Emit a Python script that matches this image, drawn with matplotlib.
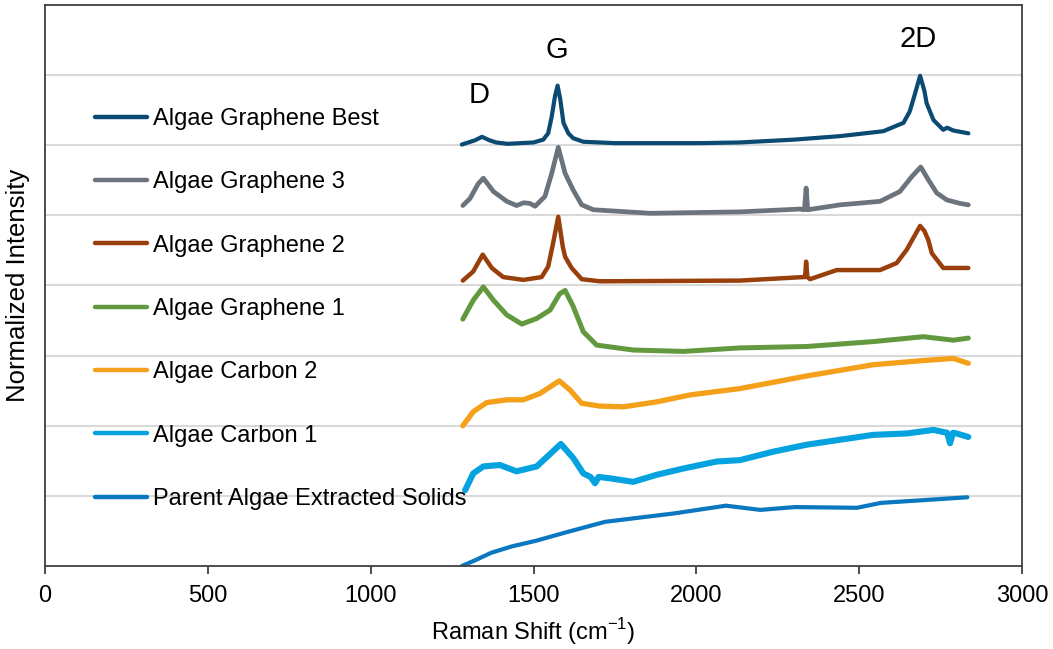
import matplotlib.pyplot as plt

plt.rcParams['font.family'] = ['Liberation Sans', 'DejaVu Sans']

# keypoints (Raman shift, stacked normalized intensity)
best_x = [1280, 1300, 1320, 1342, 1365, 1385, 1420, 1500, 1530, 1545, 1556, 1566, 1574, 1582, 1592,
          1607, 1622, 1653, 1750, 2011, 2134, 2300, 2441, 2574, 2636, 2655, 2666, 2687, 2700, 2707,
          2728, 2758, 2770, 2789, 2835]
best_y = [6.01, 6.04, 6.07, 6.12, 6.07, 6.04, 6.02, 6.04, 6.08, 6.17, 6.41, 6.70, 6.85, 6.66, 6.32,
          6.17, 6.10, 6.05, 6.03, 6.03, 6.04, 6.08, 6.13, 6.20, 6.32, 6.48, 6.65, 6.99, 6.78, 6.60,
          6.36, 6.22, 6.25, 6.21, 6.17]

g3_x = [1283, 1305, 1330, 1346, 1377, 1418, 1448, 1470, 1489, 1505, 1535, 1556, 1576, 1597, 1622,
        1648, 1684, 1858, 2134, 2318, 2332, 2337, 2342, 2441, 2564, 2625, 2661, 2689, 2712, 2738,
        2769, 2810, 2835]
g3_y = [5.14, 5.24, 5.45, 5.53, 5.34, 5.20, 5.14, 5.18, 5.17, 5.13, 5.27, 5.60, 5.97, 5.60, 5.36,
        5.15, 5.08, 5.03, 5.05, 5.09, 5.08, 5.39, 5.08, 5.15, 5.20, 5.34, 5.55, 5.69, 5.51, 5.32,
        5.22, 5.17, 5.15]

g2_x = [1283, 1315, 1344, 1372, 1407, 1469, 1525, 1545, 1560, 1576, 1590, 1597, 1617, 1648, 1704,
        2134, 2328, 2334, 2337, 2341, 2349, 2431, 2564, 2615, 2646, 2687, 2700, 2712, 2723, 2758,
        2835]
g2_y = [4.07, 4.20, 4.44, 4.25, 4.12, 4.08, 4.12, 4.27, 4.60, 4.98, 4.55, 4.41, 4.25, 4.09, 4.06,
        4.07, 4.12, 4.12, 4.34, 4.12, 4.09, 4.22, 4.22, 4.32, 4.51, 4.85, 4.78, 4.65, 4.46, 4.25,
        4.25]

g1_x = [1283, 1315, 1346, 1377, 1418, 1464, 1510, 1551, 1580, 1597, 1622, 1653, 1694, 1806, 1960,
        2134, 2339, 2543, 2697, 2789, 2835]
g1_y = [3.52, 3.79, 3.98, 3.79, 3.58, 3.45, 3.53, 3.65, 3.88, 3.93, 3.70, 3.34, 3.15, 3.08, 3.06,
        3.11, 3.13, 3.20, 3.27, 3.22, 3.25]

c2_x = [1283, 1315, 1356, 1418, 1469, 1520, 1579, 1612, 1648, 1704, 1776, 1878, 1981, 2134, 2339,
        2543, 2697, 2789, 2835]
c2_y = [2.00, 2.20, 2.33, 2.37, 2.37, 2.46, 2.64, 2.51, 2.32, 2.28, 2.27, 2.34, 2.44, 2.53, 2.71,
        2.87, 2.93, 2.96, 2.89]

c1_x = [1290, 1315, 1346, 1397, 1448, 1510, 1584, 1622, 1653, 1675, 1689, 1700, 1735, 1806, 1878,
        1960, 2063, 2134, 2236, 2339, 2441, 2543, 2646, 2728, 2770, 2779, 2788, 2799, 2835]
c1_y = [1.08, 1.32, 1.42, 1.44, 1.35, 1.42, 1.74, 1.54, 1.32, 1.27, 1.18, 1.27, 1.25, 1.20, 1.30,
        1.39, 1.49, 1.51, 1.63, 1.73, 1.80, 1.87, 1.89, 1.94, 1.90, 1.75, 1.90, 1.89, 1.84]

pa_x = [1280, 1320, 1371, 1434, 1508, 1600, 1720, 1932, 2091, 2196, 2302, 2493, 2567, 2700, 2832]
pa_y = [0.00, 0.08, 0.19, 0.28, 0.36, 0.48, 0.63, 0.75, 0.86, 0.80, 0.84, 0.83, 0.90, 0.94, 0.98]

series = [
    (best_x, best_y, 'Algae Graphene Best', '#0B4A72', 3.0),
    (g3_x, g3_y, 'Algae Graphene 3', '#6B737C', 3.4),
    (g2_x, g2_y, 'Algae Graphene 2', '#993F0C', 3.2),
    (g1_x, g1_y, 'Algae Graphene 1', '#62993E', 3.6),
    (c2_x, c2_y, 'Algae Carbon 2', '#F5A01A', 3.8),
    (c1_x, c1_y, 'Algae Carbon 1', '#05A2E0', 4.4),
    (pa_x, pa_y, 'Parent Algae Extracted Solids', '#0A77C0', 3.0),
]

peak_labels = ['D', 'G', '2D']
peak_pos = [(1333, 6.72), (1572, 7.36), (2681, 7.51)]

fig = plt.figure(figsize=(10.53, 6.49), dpi=100)
ax = fig.add_axes([0.0427, 0.1279, 0.9279, 0.8644])

for xs, ys, name, col, w in series:
    ax.plot(xs, ys, color=col, lw=w, label=name, solid_joinstyle='round', solid_capstyle='round')

for lab, (px, py) in zip(peak_labels, peak_pos):
    ax.text(px, py, lab, fontsize=21, ha='center', va='center')

ax.set_xlim(0, 3000)
ax.set_ylim(0, 8)
ax.set_xticks(range(0, 3001, 500))
ax.set_yticks(range(1, 8))
ax.set_yticklabels([])
ax.tick_params(axis='y', length=0)
ax.tick_params(axis='x', labelsize=17, length=6, width=1.3, color='#404040', direction='out', pad=8)
ax.grid(axis='y', color='#D9D9D9', lw=1.5)
ax.set_axisbelow(True)
for sp in ax.spines.values():
    sp.set_color('#404040')
    sp.set_linewidth(1.3)

ax.set_xlabel('Raman Shift (cm$^{\\mathregular{-1}}$)', fontsize=17, labelpad=6)
ax.set_ylabel('Normalized Intensity', fontsize=18.5, labelpad=7)

leg = ax.legend(loc='center left', bbox_to_anchor=(0.0512, 0.458), frameon=False, fontsize=17,
                borderpad=0, borderaxespad=0, labelspacing=1.75, handlelength=2.2, handletextpad=0.25)
for h in leg.get_lines():
    h.set_linewidth(3.2)

fig.savefig('out.png', dpi=100)
